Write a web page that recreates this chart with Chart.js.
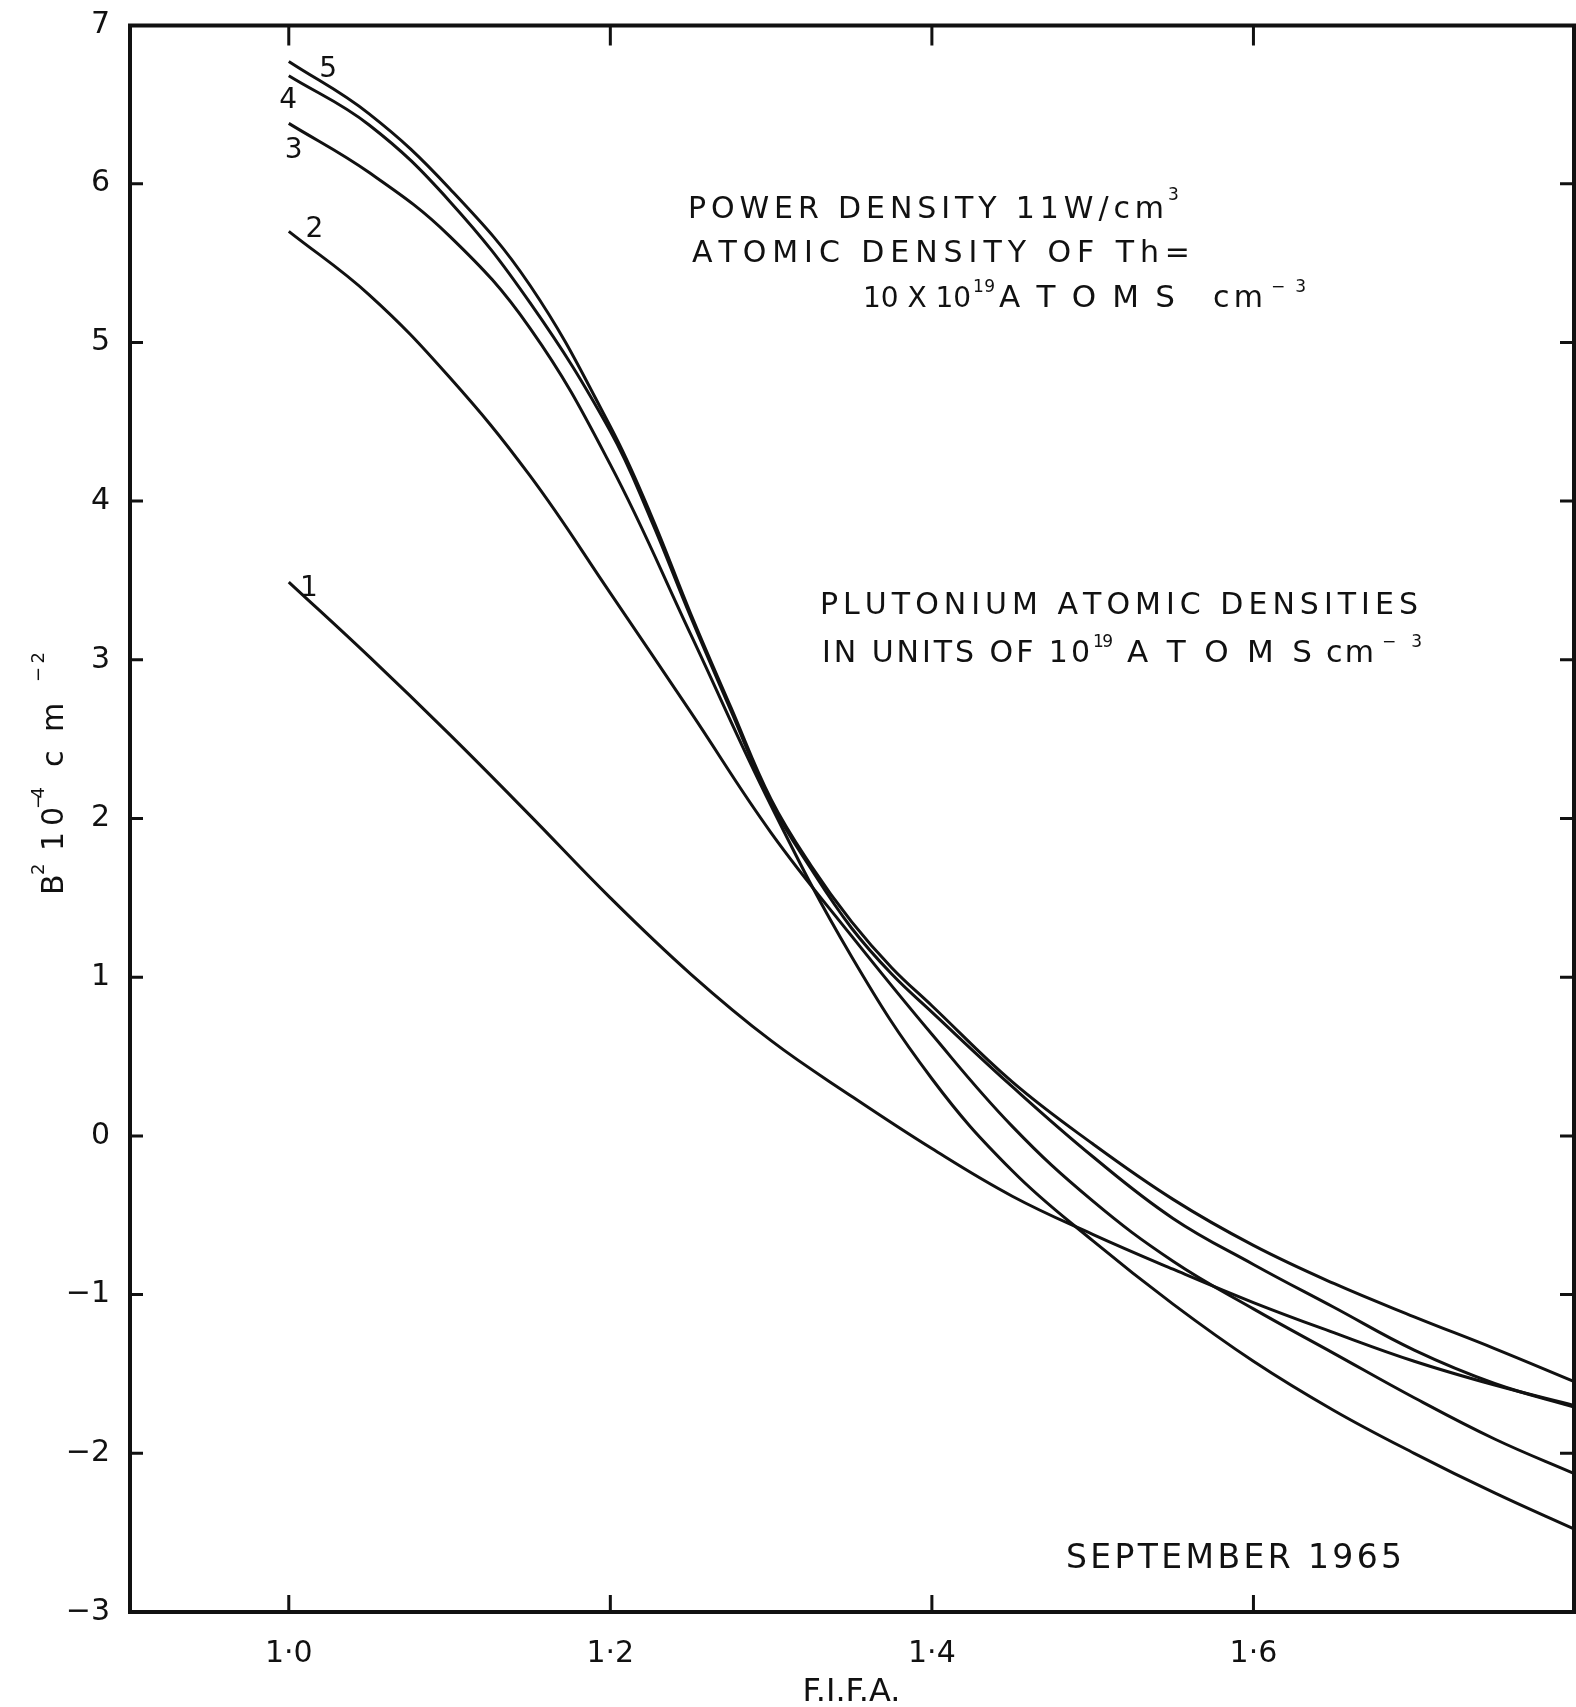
<!DOCTYPE html>
<html>
<head>
<meta charset="utf-8">
<script src="https://cdn.jsdelivr.net/npm/chart.js@4.4.1/dist/chart.umd.min.js"></script>
<style>
html,body{margin:0;padding:0;background:#ffffff;}
canvas{display:block;}
</style>
</head>
<body>
<canvas id="c" width="1576" height="1707"></canvas>
<script>
// ---------- data ----------
const FIFA_TICKS = [1.0, 1.2, 1.4, 1.6];
const B2_TICKS = [-3, -2, -1, 0, 1, 2, 3, 4, 5, 6, 7];
const CURVE_NAMES = ['1', '2', '3', '4', '5'];

const curve1X = [1.00, 1.05, 1.10, 1.15, 1.20, 1.25, 1.30, 1.35, 1.40, 1.45, 1.50, 1.55, 1.60, 1.65, 1.70, 1.75, 1.80];
const curve1Y = [3.49, 3.02, 2.53, 2.02, 1.50, 1.02, 0.60, 0.25, -0.08, -0.38, -0.62, -0.84, -1.05, -1.24, -1.42, -1.57, -1.70];

const curve2X = [1.00, 1.05, 1.10, 1.15, 1.20, 1.25, 1.30, 1.35, 1.40, 1.45, 1.50, 1.55, 1.60, 1.65, 1.70, 1.75, 1.80];
const curve2Y = [5.70, 5.30, 4.78, 4.16, 3.42, 2.67, 1.91, 1.26, 0.64, 0.06, -0.41, -0.79, -1.09, -1.37, -1.65, -1.91, -2.13];

const curve3X = [1.00, 1.05, 1.10, 1.15, 1.20, 1.25, 1.30, 1.35, 1.40, 1.45, 1.50, 1.55, 1.60, 1.65, 1.70, 1.75, 1.80];
const curve3Y = [6.38, 6.07, 5.67, 5.09, 4.23, 3.16, 2.08, 1.13, 0.36, -0.22, -0.66, -1.06, -1.42, -1.73, -2.00, -2.25, -2.48];

const curve4X = [1.00, 1.05, 1.10, 1.15, 1.20, 1.225, 1.25, 1.275, 1.30, 1.325, 1.35, 1.375, 1.40, 1.45, 1.50, 1.55, 1.60, 1.65, 1.70, 1.75, 1.80];
const curve4Y = [6.68, 6.37, 5.89, 5.25, 4.44, 3.89, 3.27, 2.68, 2.10, 1.68, 1.31, 1.02, 0.78, 0.31, -0.13, -0.52, -0.81, -1.08, -1.35, -1.56, -1.71];

const curve5X = [1.00, 1.05, 1.10, 1.15, 1.20, 1.225, 1.25, 1.275, 1.30, 1.325, 1.35, 1.375, 1.40, 1.45, 1.50, 1.55, 1.60, 1.65, 1.70, 1.75, 1.80];
const curve5Y = [6.77, 6.44, 5.97, 5.36, 4.47, 3.92, 3.29, 2.70, 2.12, 1.70, 1.35, 1.06, 0.82, 0.34, -0.05, -0.40, -0.69, -0.93, -1.14, -1.34, -1.55];

// anchor of each curve number, in data units (x, y)
const labelAnchorX = [1.0125, 1.016, 1.003, 0.9996, 1.0245];
const labelAnchorY = [3.45, 5.71, 6.21, 6.52, 6.72];

// ---------- styling ----------
const INK = '#111111';
const FONT = '"DejaVu Sans", "Liberation Sans", Arial, sans-serif';
Chart.defaults.font.family = FONT;
Chart.defaults.color = INK;

const seriesX = [curve1X, curve2X, curve3X, curve4X, curve5X];
const seriesY = [curve1Y, curve2Y, curve3Y, curve4Y, curve5Y];

function fmtFifa(v) { return v.toFixed(1).replace('.', '\u00B7'); }
function fmtB2(v) { return v < 0 ? '\u2212' + Math.abs(v) : String(v); }

// draw a piece of text, spread by letter spacing to a target width
function drawPiece(ctx, text, x, baseline, size, target) {
  ctx.font = size + 'px ' + FONT;
  const chars = Array.from(text);
  const widths = chars.map(ch => ctx.measureText(ch).width);
  const natural = widths.reduce((a, b) => a + b, 0);
  const extra = (target && chars.length > 1) ? (target - natural) / (chars.length - 1) : 0;
  let cx = x;
  chars.forEach((ch, i) => { ctx.fillText(ch, cx, baseline); cx += widths[i] + extra; });
}

const decorPlugin = {
  id: 'decor',
  afterDraw(chart) {
    const { ctx, chartArea: ca, scales } = chart;
    const xs = scales.x, ys = scales.y;
    ctx.save();
    // frame
    ctx.strokeStyle = INK;
    ctx.lineWidth = 4;
    ctx.lineJoin = 'miter';
    const L = ca.left + 2, R = ca.right - 1, T = ca.top + 0.5, B = ca.bottom;
    ctx.strokeRect(L, T, R - L, B - T);
    // inward tick marks
    ctx.lineWidth = 3;
    ctx.beginPath();
    B2_TICKS.forEach(v => {
      if (v <= -3 || v >= 7) return;
      const py = ys.getPixelForValue(v);
      ctx.moveTo(L, py); ctx.lineTo(L + 13, py);
      ctx.moveTo(R, py); ctx.lineTo(R - 14, py);
    });
    FIFA_TICKS.forEach(v => {
      const px = xs.getPixelForValue(v);
      ctx.moveTo(px, T); ctx.lineTo(px, T + 20);
      ctx.moveTo(px, B); ctx.lineTo(px, B - 17);
    });
    ctx.stroke();

    // curve numbers
    ctx.fillStyle = INK;
    ctx.textAlign = 'center';
    ctx.textBaseline = 'middle';
    ctx.font = '28px ' + FONT;
    CURVE_NAMES.forEach((n, i) => {
      ctx.fillText(n, xs.getPixelForValue(labelAnchorX[i]), ys.getPixelForValue(labelAnchorY[i]));
    });

    // annotations
    ctx.textAlign = 'left';
    ctx.textBaseline = 'alphabetic';
    drawPiece(ctx, 'POWER DENSITY 11W/cm', 688, 218, 30, 476);
    drawPiece(ctx, '3', 1168, 200, 17, 0);
    drawPiece(ctx, 'ATOMIC DENSITY OF Th=', 692, 262, 30, 498);
    drawPiece(ctx, '10 X 10', 863, 307, 28, 108);
    drawPiece(ctx, '19', 973, 292, 17, 22);
    drawPiece(ctx, 'ATOMS', 999, 307, 31, 176);
    drawPiece(ctx, 'c m', 1213, 307, 30, 50);
    drawPiece(ctx, '\u22123', 1271, 292, 17, 35);

    drawPiece(ctx, 'PLUTONIUM ATOMIC DENSITIES', 820, 614, 30, 598);
    drawPiece(ctx, 'IN UNITS OF 10', 822, 662, 30, 268);
    drawPiece(ctx, '19', 1093, 647, 17, 20);
    drawPiece(ctx, 'ATOMS', 1127, 662, 31, 185);
    drawPiece(ctx, 'c m', 1326, 662, 30, 48);
    drawPiece(ctx, '\u22123', 1382, 647, 17, 40);

    drawPiece(ctx, 'SEPTEMBER 1965', 1066, 1568, 33, 336);

    // y-axis title (rotated)
    ctx.save();
    ctx.translate(63, 895);
    ctx.rotate(-Math.PI / 2);
    drawPiece(ctx, 'B', 0, 0, 30, 0);
    drawPiece(ctx, '2', 20, -19, 18, 0);
    drawPiece(ctx, '10', 44, 0, 30, 44);
    drawPiece(ctx, '\u22124', 86, -19, 18, 22);
    drawPiece(ctx, 'c', 128, 0, 30, 0);
    drawPiece(ctx, 'm', 163, 0, 30, 0);
    drawPiece(ctx, '\u22122', 213, -19, 18, 30);
    ctx.restore();

    ctx.restore();
  }
};

new Chart(document.getElementById('c'), {
  type: 'line',
  data: {
    datasets: seriesX.map((xsArr, i) => ({
      label: 'Curve ' + CURVE_NAMES[i],
      data: xsArr.map((xv, j) => ({ x: xv, y: seriesY[i][j] })),
      borderColor: INK,
      borderWidth: 3,
      pointRadius: 0,
      fill: false,
      tension: 0.4
    }))
  },
  options: {
    responsive: false,
    animation: false,
    devicePixelRatio: 1,
    layout: { padding: { top: 25, right: 1, left: 0, bottom: 0 } },
    plugins: { legend: { display: false }, tooltip: { enabled: false } },
    scales: {
      x: {
        type: 'linear',
        min: 0.9,
        max: 1.8,
        afterBuildTicks: s => { s.ticks = FIFA_TICKS.map(v => ({ value: v })); },
        afterFit: s => { s.height = 95; s.paddingLeft = 0; s.paddingRight = 0; },
        grid: { display: false, drawTicks: false },
        border: { display: false },
        ticks: { autoSkip: false, maxRotation: 0, padding: 24, color: INK, font: { size: 30 }, callback: v => fmtFifa(v) },
        title: { display: true, text: 'F.I.F.A.', color: INK, font: { size: 32, lineHeight: 1 }, padding: { top: 0, bottom: -2 } }
      },
      y: {
        type: 'linear',
        min: -3,
        max: 7,
        afterBuildTicks: s => { s.ticks = B2_TICKS.map(v => ({ value: v })); },
        afterFit: s => { s.width = 128; s.paddingTop = 0; s.paddingBottom = 0; },
        grid: { display: false, drawTicks: false },
        border: { display: false },
        ticks: { autoSkip: false, padding: 18, color: INK, font: { size: 30 }, callback: v => fmtB2(v) }
      }
    }
  },
  plugins: [decorPlugin]
});
</script>
</body>
</html>
